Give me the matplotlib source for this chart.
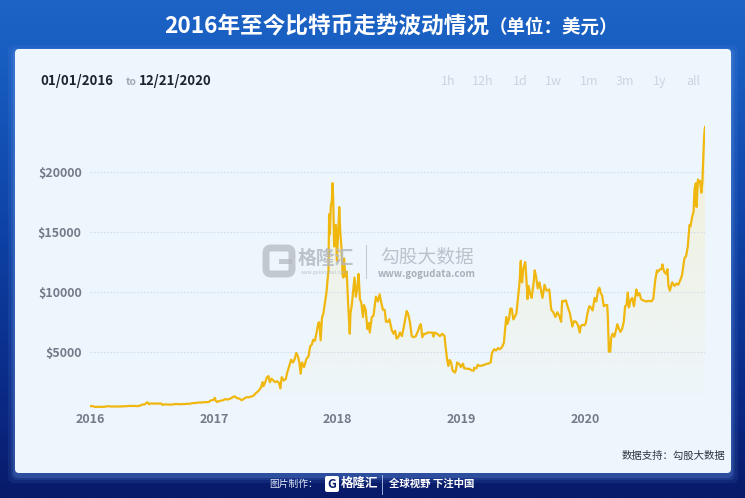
import numpy as np
import pandas as pd
import matplotlib.pyplot as plt
import matplotlib.dates as mdates
from matplotlib.patches import FancyBboxPatch
from matplotlib.colors import to_rgb

plt.rcParams['font.family'] = ['Noto Sans CJK SC', 'DejaVu Sans']

TITLE = '2016年至今比特币走势波动情况'
TITLE_UNIT = '（单位：美元）'
RANGE_FROM = '01/01/2016'
RANGE_TO = '12/21/2020'
ZOOM_BUTTONS = ['1h', '12h', '1d', '1w', '1m', '3m', '1y', 'all']
SOURCE = '数据支持：勾股大数据'

YEAR_TICKS = ['2016', '2017', '2018', '2019', '2020']
PRICE_TICKS = [5000, 10000, 15000, 20000]

# BTC price (USD)
DATES_2016 = ['2016-01-01', '2016-01-08', '2016-01-15', '2016-01-22', '2016-01-29', '2016-02-05',
              '2016-02-12', '2016-02-19', '2016-02-26', '2016-03-04', '2016-03-11', '2016-03-18',
              '2016-03-25', '2016-04-01', '2016-04-08', '2016-04-15', '2016-04-22', '2016-04-29',
              '2016-05-06', '2016-05-13', '2016-05-20', '2016-05-27', '2016-06-03', '2016-06-10',
              '2016-06-17', '2016-06-20', '2016-06-23', '2016-06-27', '2016-07-01', '2016-07-08',
              '2016-07-15', '2016-07-22', '2016-07-29', '2016-08-02', '2016-08-05', '2016-08-12',
              '2016-08-19', '2016-08-26', '2016-09-02', '2016-09-09', '2016-09-16', '2016-09-23',
              '2016-09-30', '2016-10-07', '2016-10-14', '2016-10-21', '2016-10-28', '2016-11-04',
              '2016-11-11', '2016-11-18', '2016-11-25', '2016-12-02', '2016-12-09', '2016-12-16',
              '2016-12-23', '2016-12-30']
PRICES_2016 = [434, 453, 375, 383, 379, 386, 384, 420, 432, 410, 418, 408, 416, 417, 420, 430,
               450, 455, 458, 455, 442, 472, 570, 577, 750, 735, 596, 647, 676, 642, 665, 652,
               655, 545, 575, 586, 575, 577, 575, 623, 606, 602, 609, 617, 640, 630, 688, 705,
               714, 749, 740, 772, 770, 785, 920, 960]

DATES_2017 = ['2017-01-04', '2017-01-06', '2017-01-11', '2017-01-13', '2017-01-20', '2017-01-27',
              '2017-02-03', '2017-02-10', '2017-02-17', '2017-02-24', '2017-03-03', '2017-03-10',
              '2017-03-17', '2017-03-24', '2017-03-31', '2017-04-07', '2017-04-14', '2017-04-21',
              '2017-04-28', '2017-05-05', '2017-05-12', '2017-05-19', '2017-05-25', '2017-05-27',
              '2017-06-02', '2017-06-06', '2017-06-11', '2017-06-15', '2017-06-20', '2017-06-25',
              '2017-07-01', '2017-07-07', '2017-07-12', '2017-07-16', '2017-07-20', '2017-07-26',
              '2017-08-01', '2017-08-05', '2017-08-12', '2017-08-17', '2017-08-22', '2017-08-27',
              '2017-09-01', '2017-09-06', '2017-09-10', '2017-09-14', '2017-09-18', '2017-09-24',
              '2017-10-01', '2017-10-07', '2017-10-12', '2017-10-17', '2017-10-21', '2017-10-26',
              '2017-11-01', '2017-11-05', '2017-11-08', '2017-11-12', '2017-11-16', '2017-11-20',
              '2017-11-26', '2017-11-29', '2017-12-02', '2017-12-05', '2017-12-07', '2017-12-09',
              '2017-12-12', '2017-12-15', '2017-12-17', '2017-12-19', '2017-12-22', '2017-12-24',
              '2017-12-27', '2017-12-30']
PRICES_2017 = [1135, 890, 780, 825, 895, 920, 1030, 995, 1050, 1170, 1260, 1110, 1070, 935,
               1070, 1190, 1180, 1240, 1320, 1540, 1700, 1960, 2450, 2100, 2480, 2850, 2950,
               2440, 2740, 2590, 2440, 2530, 2380, 1930, 2870, 2580, 2710, 3220, 3880, 4330,
               4090, 4350, 4890, 4600, 4120, 3150, 4100, 3700, 4400, 4600, 5430, 5600, 6000,
               5900, 6750, 7400, 7460, 5950, 7850, 8200, 9300, 9900, 10900, 11700, 16500,
               14800, 17200, 17600, 19100, 17800, 13800, 13900, 15600, 12600]

DATES_2018 = ['2018-01-03', '2018-01-06', '2018-01-09', '2018-01-12', '2018-01-16', '2018-01-18',
              '2018-01-20', '2018-01-24', '2018-01-28', '2018-02-01', '2018-02-05', '2018-02-06',
              '2018-02-08', '2018-02-12', '2018-02-16', '2018-02-20', '2018-02-24', '2018-02-28',
              '2018-03-04', '2018-03-08', '2018-03-12', '2018-03-17', '2018-03-20', '2018-03-25',
              '2018-03-30', '2018-04-03', '2018-04-06', '2018-04-12', '2018-04-17', '2018-04-21',
              '2018-04-24', '2018-04-30', '2018-05-05', '2018-05-10', '2018-05-15', '2018-05-20',
              '2018-05-24', '2018-05-29', '2018-06-03', '2018-06-10', '2018-06-15', '2018-06-20',
              '2018-06-24', '2018-06-29', '2018-07-04', '2018-07-10', '2018-07-17', '2018-07-24',
              '2018-07-28', '2018-08-03', '2018-08-08', '2018-08-14', '2018-08-20', '2018-08-26',
              '2018-09-01', '2018-09-04', '2018-09-08', '2018-09-14', '2018-09-20', '2018-09-24',
              '2018-10-01', '2018-10-08', '2018-10-11', '2018-10-15', '2018-10-22', '2018-10-30',
              '2018-11-06', '2018-11-13', '2018-11-15', '2018-11-19', '2018-11-20', '2018-11-24',
              '2018-11-28', '2018-12-02', '2018-12-07', '2018-12-14', '2018-12-17', '2018-12-20',
              '2018-12-24', '2018-12-28', '2018-12-31']
PRICES_2018 = [15200, 17100, 15000, 13900, 11400, 11200, 12800, 11300, 11700, 9100, 7000, 6500,
               8200, 8900, 10100, 11200, 9600, 10300, 11500, 9400, 9100, 7900, 8900, 8500,
               6900, 7400, 6600, 7900, 8000, 8900, 9600, 9200, 9800, 9100, 8500, 8500, 7500,
               7500, 7700, 6800, 6500, 6750, 6100, 6200, 6600, 6300, 7300, 8400, 8200, 7400,
               6300, 6200, 6300, 6700, 7200, 7300, 6200, 6500, 6500, 6600, 6600, 6600, 6250,
               6600, 6500, 6300, 6500, 6300, 5600, 4700, 4400, 3800, 4300, 4100, 3400, 3250,
               3550, 4100, 4000, 3900, 3700]

DATES_2019 = ['2019-01-06', '2019-01-10', '2019-01-15', '2019-01-20', '2019-01-25', '2019-01-31',
              '2019-02-07', '2019-02-08', '2019-02-15', '2019-02-19', '2019-02-24', '2019-03-01',
              '2019-03-08', '2019-03-15', '2019-03-22', '2019-03-29', '2019-04-02', '2019-04-08',
              '2019-04-14', '2019-04-20', '2019-04-25', '2019-05-01', '2019-05-07', '2019-05-11',
              '2019-05-14', '2019-05-17', '2019-05-22', '2019-05-26', '2019-05-30', '2019-06-04',
              '2019-06-08', '2019-06-13', '2019-06-17', '2019-06-22', '2019-06-26', '2019-06-27',
              '2019-06-30', '2019-07-03', '2019-07-09', '2019-07-12', '2019-07-16', '2019-07-19',
              '2019-07-24', '2019-07-28', '2019-08-03', '2019-08-06', '2019-08-10', '2019-08-15',
              '2019-08-20', '2019-08-25', '2019-08-29', '2019-09-04', '2019-09-10', '2019-09-18',
              '2019-09-24', '2019-09-30', '2019-10-06', '2019-10-12', '2019-10-18', '2019-10-23',
              '2019-10-26', '2019-10-31', '2019-11-06', '2019-11-12', '2019-11-18', '2019-11-22',
              '2019-11-25', '2019-11-30', '2019-12-06', '2019-12-12', '2019-12-17', '2019-12-20',
              '2019-12-26', '2019-12-31']
PRICES_2019 = [4000, 3600, 3600, 3550, 3570, 3440, 3400, 3650, 3600, 3900, 3800, 3820, 3880,
               3960, 4000, 4100, 4900, 5200, 5100, 5300, 5200, 5350, 5750, 7000, 7900, 7300,
               7700, 8600, 8600, 7700, 7900, 8200, 9300, 10700, 12600, 11000, 10800, 11900,
               12500, 11300, 9400, 10500, 9800, 9500, 10800, 11800, 11300, 10300, 10800, 10100,
               9500, 10600, 10100, 10200, 8500, 8300, 7900, 8300, 7950, 7500, 9250, 9200, 9300,
               8700, 8200, 7600, 7100, 7550, 7500, 7200, 6600, 7150, 7250, 7200]

DATES_2020 = ['2020-01-04', '2020-01-08', '2020-01-14', '2020-01-19', '2020-01-24', '2020-01-30',
              '2020-02-04', '2020-02-09', '2020-02-13', '2020-02-17', '2020-02-21', '2020-02-26',
              '2020-03-02', '2020-03-07', '2020-03-09', '2020-03-12', '2020-03-16', '2020-03-19',
              '2020-03-23', '2020-03-28', '2020-04-02', '2020-04-06', '2020-04-11', '2020-04-15',
              '2020-04-20', '2020-04-25', '2020-04-29', '2020-05-03', '2020-05-07', '2020-05-10',
              '2020-05-15', '2020-05-20', '2020-05-25', '2020-06-01', '2020-06-05', '2020-06-10',
              '2020-06-15', '2020-06-20', '2020-06-25', '2020-07-01', '2020-07-07', '2020-07-15',
              '2020-07-21', '2020-07-27', '2020-08-01', '2020-08-05', '2020-08-10', '2020-08-15',
              '2020-08-17', '2020-08-22', '2020-08-28', '2020-09-01', '2020-09-04', '2020-09-08',
              '2020-09-15', '2020-09-22', '2020-09-28', '2020-10-03', '2020-10-09', '2020-10-14',
              '2020-10-21', '2020-10-26', '2020-10-31', '2020-11-05', '2020-11-08', '2020-11-13',
              '2020-11-17', '2020-11-20', '2020-11-24', '2020-11-26', '2020-11-30', '2020-12-02',
              '2020-12-06', '2020-12-10', '2020-12-13', '2020-12-16', '2020-12-18', '2020-12-20',
              '2020-12-21']
PRICES_2020 = [7400, 8100, 8800, 8700, 8450, 9500, 9200, 10150, 10350, 9900, 9700, 8800, 8900,
               8900, 7950, 5000, 5000, 6200, 6500, 6250, 6800, 7300, 6900, 6650, 6900, 7500,
               8800, 8900, 9950, 8700, 9300, 9500, 8800, 10200, 9700, 9900, 9400, 9300, 9250,
               9200, 9250, 9200, 9400, 11000, 11800, 11700, 11900, 11900, 12300, 11700, 11500,
               11900, 10500, 10100, 10800, 10500, 10700, 10600, 11000, 11400, 12800, 13000,
               13800, 15600, 15500, 16300, 16700, 18600, 19100, 17100, 19400, 19200, 19300,
               18300, 19100, 21300, 22900, 23600, 23800]

dates = pd.to_datetime(DATES_2016 + DATES_2017 + DATES_2018 + DATES_2019 + DATES_2020)
prices = np.array(PRICES_2016 + PRICES_2017 + PRICES_2018 + PRICES_2019 + PRICES_2020, float)

W, H = 745, 498
fig = plt.figure(figsize=(W / 100, H / 100), dpi=100)

# ---- background: blue gradient page ----
bg = fig.add_axes([0, 0, 1, 1])
bg.set_xlim(0, W)
bg.set_ylim(H, 0)
bg.axis('off')
stops = [0.0, 0.15, 0.5, 0.85, 1.0]
cols = [to_rgb(c) for c in ['#1d64c6', '#175bbf', '#0d3fa2', '#0a2680', '#081a68']]
t = np.linspace(0, 1, H)
grad = np.stack([np.interp(t, stops, [c[i] for c in cols]) for i in range(3)], axis=-1)
bg.imshow(grad[:, None, :], extent=[0, W, H, 0], aspect='auto', interpolation='bilinear')

# glow under the card
for pad, a in [(7, 0.10), (4, 0.14), (2, 0.22)]:
    bg.add_patch(FancyBboxPatch((15, 52), 716, 424, boxstyle=f'round,pad={pad},rounding_size=6',
                                fc='#6a98e6', ec='none', alpha=a))
bg.add_patch(FancyBboxPatch((15, 49), 716, 424, boxstyle='round,pad=0,rounding_size=4',
                            fc='#eef6fd', ec='none'))

# ---- chart ----
x_left, y_zero, y_top = 90, 411.4, 115
ax = fig.add_axes([x_left / W, 1 - y_zero / H, (705.4 - x_left) / W, (y_zero - y_top) / H])
ax.set_facecolor('none')
x0, x1 = pd.Timestamp('2016-01-01'), pd.Timestamp('2020-12-22')
ymax = 24800

poly = ax.fill_between(dates, prices, 0, color='none', lw=0)
fill = np.zeros((256, 1, 4))
fill[..., :3] = to_rgb('#f2eecb')
fill[..., 3] = np.linspace(0.8, 0.0, 256)[:, None]
im = ax.imshow(fill, aspect='auto', origin='upper', zorder=1,
               extent=[mdates.date2num(x0), mdates.date2num(x1), 0, ymax])
im.set_clip_path(poly.get_paths()[0], transform=ax.transData)

ax.plot(dates, prices, color='#f0b70e', lw=1.6, solid_joinstyle='round', zorder=3)

ax.set_xlim(x0, x1)
ax.set_ylim(0, ymax)
ax.set_xticks(pd.to_datetime([f'{y}-01-01' for y in YEAR_TICKS]))
ax.set_xticklabels(YEAR_TICKS)
ax.set_yticks(PRICE_TICKS)
ax.set_yticklabels([f'${v}' for v in PRICE_TICKS])
ax.tick_params(axis='both', length=0, labelsize=9, labelcolor='#737b89')
ax.tick_params(axis='y', pad=6)
ax.tick_params(axis='x', pad=1)
for lab in ax.get_xticklabels() + ax.get_yticklabels():
    lab.set_fontweight('bold')
ax.grid(axis='y', color='#d2deea', lw=0.8, linestyle=(0, (1.5, 1.5)))
ax.grid(axis='x', visible=False)
for s in ax.spines.values():
    s.set_visible(False)

# ---- texts ----
ov = fig.add_axes([0, 0, 1, 1], zorder=10)
ov.set_xlim(0, W)
ov.set_ylim(H, 0)
ov.axis('off')

t1 = ov.text(164, 27, TITLE, ha='left', va='center', fontsize=16.3, weight='bold', color='white')
ov.annotate(TITLE_UNIT, xy=(1, 0.5), xycoords=t1, ha='left', va='center', fontsize=13.3,
            weight='bold', color='white')

ov.text(40, 81, RANGE_FROM, ha='left', va='center', fontsize=9.5, weight='bold', color='#1e2330')
ov.text(126, 82, 'to', ha='left', va='center', fontsize=7.5, weight='bold', color='#a2a9b4')
ov.text(139, 81, RANGE_TO, ha='left', va='center', fontsize=9.5, weight='bold', color='#1e2330')
for xc, b in zip([448, 483, 520, 553, 589, 625, 660, 693], ZOOM_BUTTONS):
    ov.text(xc, 81, b, ha='center', va='center', fontsize=9, weight='medium', color='#cdd3dc')

# watermark
wm = '#b4b9c2'
ov.add_patch(FancyBboxPatch((266, 248), 26, 26, boxstyle='round,pad=0,rounding_size=5',
                            fc='none', ec=wm, lw=5, alpha=0.75))
ov.add_patch(FancyBboxPatch((279, 259), 13, 5, boxstyle='square,pad=0', fc=wm, ec='none', alpha=0.75))
ov.text(298, 258, '格隆汇', ha='left', va='center', fontsize=13.5, weight='bold', color=wm, alpha=0.85)
ov.text(325, 272, 'www.gelonghui.com', ha='center', va='center', fontsize=3.5, color=wm, alpha=0.85)
ov.plot([366, 366], [245, 278], color=wm, lw=0.8, alpha=0.7)
ov.text(380, 257, '勾股大数据', ha='left', va='center', fontsize=13.5, color=wm, alpha=0.85)
ov.text(427, 274, 'www.gogudata.com', ha='center', va='center', fontsize=7, weight='bold',
        color='#a3a8b1', alpha=0.9)

ov.text(725, 456, SOURCE, ha='right', va='center', fontsize=7.5, color='#2f3440')

# footer
ov.text(269, 484, '图片制作：', ha='left', va='center', fontsize=7, color='#dfe6f5')
ov.add_patch(FancyBboxPatch((325, 476), 14, 16, boxstyle='round,pad=0,rounding_size=2',
                            fc='white', ec='none'))
ov.text(332, 484, 'G', ha='center', va='center', fontsize=9, weight='black', color='#0a1d6c')
ov.text(341, 483, '格隆汇', ha='left', va='center', fontsize=9, weight='bold', color='white')
ov.plot([382, 382], [475, 494], color='#9fb0d8', lw=0.7)
ov.text(389, 484, '全球视野 下注中国', ha='left', va='center', fontsize=7.5, weight='bold', color='white')

fig.savefig('out.png', dpi=100)
